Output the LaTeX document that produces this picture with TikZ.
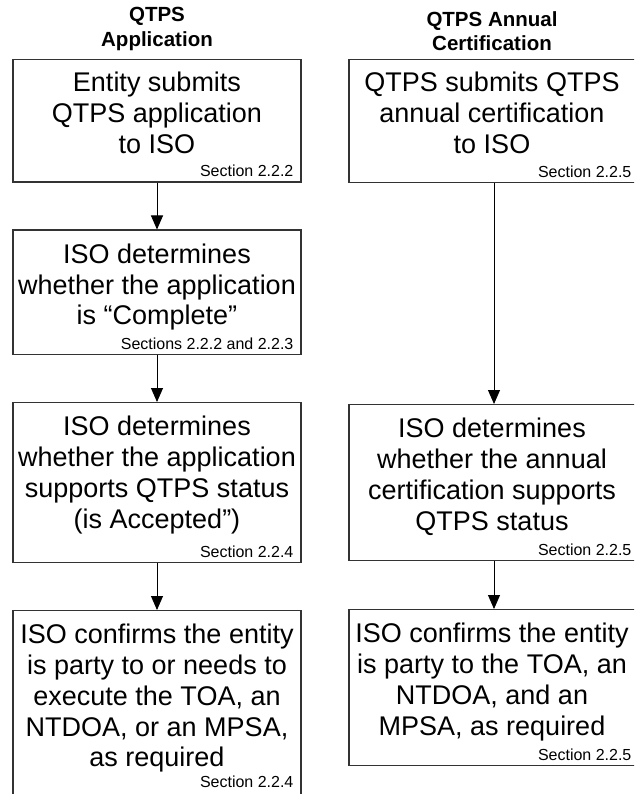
\documentclass[tikz,border=0pt]{standalone}
\usepackage{fontspec}
\setmainfont{Liberation Sans}
\usetikzlibrary{arrows.meta, positioning, calc}

\tikzset{
  box/.style={draw=black!80, line width=1.2pt, rectangle, anchor=north, inner sep=0pt},
  lbox/.style={box, minimum width=288pt},
  rbox/.style={box, minimum width=290pt},
  body/.style={align=center, inner sep=0pt, font=\fontsize{27}{30.8}\selectfont},
  sect/.style={inner sep=0pt, font=\fontsize{16}{18}\selectfont},
  head/.style={align=center, inner sep=0pt, font=\fontsize{20.5}{24.5}\selectfont\bfseries},
  arr/.style={-{Triangle[length=14pt,width=12pt]}, line width=0.9pt}
}

\begin{document}
\begin{tikzpicture}[x=1pt,y=1pt]
\useasboundingbox (0,0) rectangle (634,-794);
\clip (0,0) rectangle (634,-794);

% QTPS Application
\node[head] (apphead) at (157,-29) {QTPS\\Application};
\node[lbox, minimum height=122.5pt] (app) at (157,-59) {};
\node[body, below=13pt of app.north] (appt) {Entity submits\\QTPS application\\to ISO};
\node[sect, above left=5.5pt and 8pt of app.south east] (apps) {Section 2.2.2};

\node[lbox, minimum height=124.5pt] (cmp) at (157,-229.5) {};
\node[body, below=14pt of cmp.north] (cmpt) {ISO determines\\whether the application\\is \textquotedblleft Complete\textquotedblright};
\node[sect, above left=5.5pt and 8pt of cmp.south east] (cmps) {Sections 2.2.2 and 2.2.3};

\node[lbox, minimum height=160pt] (acc) at (157,-402) {};
\node[body, below=14pt of acc.north] (acct) {ISO determines\\whether the application\\supports QTPS status\\(is Accepted\textquotedblright)};
\node[sect, above left=5.5pt and 8pt of acc.south east] (accs) {Section 2.2.4};

\node[lbox, minimum height=200pt] (toa) at (157,-610) {};
\node[body, below=14pt of toa.north] (toat) {ISO confirms the entity\\is party to or needs to\\execute the TOA, an\\NTDOA, or an MPSA,\\as required};
\node[sect, anchor=base east] (toas) at ($(toat.south-|toa.east)+(-8,-15)$) {Section 2.2.4};

\draw[arr] (app) -- (cmp);
\draw[arr] (cmp) -- (acc);
\draw[arr] (acc) -- (toa);

% QTPS Annual Certification
\node[head] (certhead) at (492,-31) {QTPS Annual\\Certification};
\node[rbox, minimum height=123pt] (cert) at (494,-59) {};
\node[body, below=13pt of cert.north, xshift=-2pt] (certt) {QTPS submits QTPS\\annual certification\\to ISO};
\node[sect, above left=5.5pt and 8pt of cert.south east] (certs) {Section 2.2.5};

\node[rbox, minimum height=156pt] (sup) at (494,-404) {};
\node[body, below=14pt of sup.north, xshift=-2pt] (supt) {ISO determines\\whether the annual\\certification supports\\QTPS status};
\node[sect, above left=5.5pt and 8pt of sup.south east] (sups) {Section 2.2.5};

\node[rbox, minimum height=156pt] (agr) at (494,-609) {};
\node[body, below=14pt of agr.north, xshift=-2pt] (agrt) {ISO confirms the entity\\is party to the TOA, an\\NTDOA, and an\\MPSA, as required};
\node[sect, above left=5.5pt and 8pt of agr.south east] (agrs) {Section 2.2.5};

\draw[arr] (cert) -- (sup);
\draw[arr] (sup) -- (agr);
\end{tikzpicture}
\end{document}
